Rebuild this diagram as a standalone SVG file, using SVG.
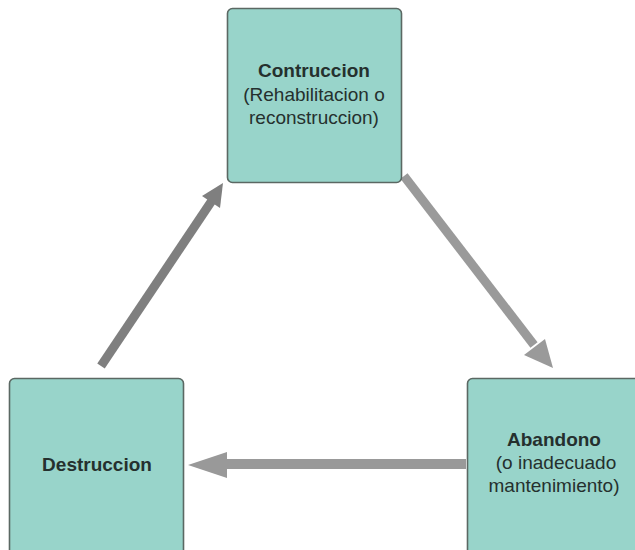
<svg xmlns="http://www.w3.org/2000/svg" width="635" height="550" viewBox="0 0 635 550">
<style>
.box{fill:#98d4ca;stroke:#5b6863;stroke-width:1.6}
.t{font-family:"Liberation Sans",Arial,sans-serif;font-size:19px;fill:#25302e;text-anchor:middle}
.b{font-weight:bold}
</style>
<rect width="635" height="550" fill="#ffffff"/>
<g id="connectors">
<line x1="101" y1="366" x2="213" y2="199" stroke="#7f7f7f" stroke-width="9"/>
<polygon points="223,183 220,208 202,196" fill="#7f7f7f"/>
<line x1="404" y1="176" x2="534" y2="345" stroke="#9a9a9a" stroke-width="9"/>
<polygon points="553,368 524,355 545,339" fill="#9a9a9a"/>
<line x1="466" y1="464" x2="222" y2="464" stroke="#999999" stroke-width="10"/>
<polygon points="188,465 227,452 227,478" fill="#999999"/>
</g>
<g id="node-construccion">
<rect class="box" x="227.5" y="8.5" width="174" height="174" rx="5"/>
<text class="t b" x="314" y="77">Contruccion</text>
<text class="t" x="314" y="101">(Rehabilitacion o</text>
<text class="t" x="314" y="124">reconstruccion)</text>
</g>
<g id="node-destruccion">
<rect class="box" x="9.5" y="378.5" width="174" height="180" rx="5"/>
<text class="t b" x="97" y="471">Destruccion</text>
</g>
<g id="node-abandono">
<rect class="box" x="467.5" y="378.5" width="180" height="180" rx="5"/>
<text class="t b" x="554" y="446">Abandono</text>
<text class="t" x="556" y="469"> (o inadecuado</text>
<text class="t" x="554" y="492">mantenimiento)</text>
</g>
</svg>
